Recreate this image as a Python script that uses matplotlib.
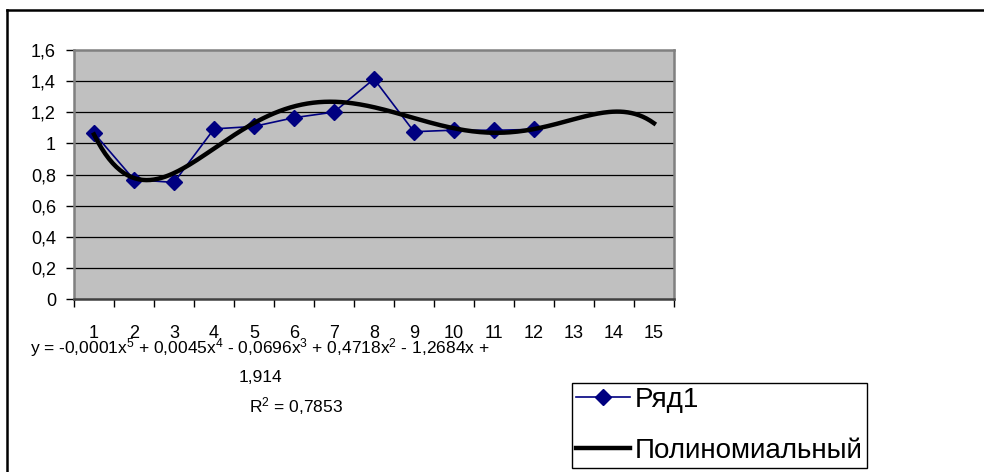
# excel-style line chart with 5th order polynomial trend
import numpy as np
import matplotlib
matplotlib.use('Agg')
import matplotlib.pyplot as plt
from matplotlib.lines import Line2D

plt.rcParams['font.family'] = ['Liberation Sans', 'DejaVu Sans']
plt.rcParams['mathtext.default'] = 'regular'

# ==== data ====
xcat = [1, 2, 3, 4, 5, 6, 7, 8, 9, 10, 11, 12, 13, 14, 15]
yval = [1.066, 0.767, 0.749, 1.093, 1.109, 1.165, 1.201, 1.414,
        1.075, 1.085, 1.084, 1.090]
ytick = [0, 0.2, 0.4, 0.6, 0.8, 1.0, 1.2, 1.4, 1.6]
ylab = ['0', '0,2', '0,4', '0,6', '0,8', '1', '1,2', '1,4', '1,6']
eq1 = ('y = -0,0001x$^5$ + 0,0045x$^4$ - 0,0696x$^3$ + 0,4718x$^2$ '
       '- 1,2684x +')
eq2 = '1,914'
rsq = 'R$^2$ = 0,7853'
name1 = 'Ряд1'
name2 = 'Полиномиальный'

# ==== trend (order 5, forecast to last category) ====
xd = np.arange(1, len(yval) + 1)
coef = np.polyfit(xd, yval, 5)
xs = np.linspace(1, xcat[-1], 300)
ys = np.polyval(coef, xs)

# ==== plotting ====
W, H = 984, 472
fig = plt.figure(figsize=(W/100, H/100), dpi=100)
ax = fig.add_axes([74/W, 1-299/H, 600/W, 249/H])
ax.set_facecolor('#C0C0C0')

for t in ytick[1:-1]:
    ax.axhline(t, color='black', lw=0.9, zorder=1)

ax.plot(xd, yval, color='#000080', lw=1.2, marker='D', ms=8,
    mfc='#000080', mec='#000080', zorder=3, label=name1)
ax.plot(xs, ys, color='black', lw=3.2, zorder=4, label=name2)

ax.set_xlim(0.5, 15.5)
ax.set_ylim(0, 1.6)
ax.set_xticks(np.arange(0.5, 16, 1))
ax.set_xticklabels([])
ax.set_xticks(xcat, minor=True)
ax.set_xticklabels([str(c) for c in xcat], minor=True, fontsize=13)
ax.tick_params(axis='x', which='major', direction='out', length=6,
    width=1, color='black')
ax.tick_params(axis='x', which='minor', length=0, pad=19)
ax.set_yticks(ytick)
ax.set_yticklabels(ylab, fontsize=13)
ax.tick_params(axis='y', direction='out', length=6, width=1,
    color='black', pad=7)
for s in ax.spines.values():
    s.set_color('#808080')
    s.set_linewidth(1.8)
ax.spines['bottom'].set_color('#404040')

# trend equation
fig.text(260/W, 1-348/H, eq1, fontsize=12.5, ha='center', va='center')
fig.text(260/W, 1-378/H, eq2, fontsize=12.5, ha='center', va='center')
fig.text(296/W, 1-406/H, rsq, fontsize=12.5, ha='center', va='center')

# legend
leg = ax.legend(loc='lower left', bbox_to_anchor=(572/W, 4/H),
    bbox_transform=fig.transFigure, fontsize=20, frameon=True,
    fancybox=False, edgecolor='black', framealpha=1, borderaxespad=0,
    borderpad=0.15, labelspacing=0.9, handlelength=1.95,
    handletextpad=0.15)
leg.get_frame().set_linewidth(1)
leg.legend_handles[0].set_markersize(8)

# chart area border (left and top edges)
fig.add_artist(Line2D([7/W, 7/W], [0, 1-10/H], color='black', lw=1.8))
fig.add_artist(Line2D([7/W, 1], [1-10/H, 1-10/H], color='black', lw=1.8))

fig.savefig('out.png', dpi=100)
